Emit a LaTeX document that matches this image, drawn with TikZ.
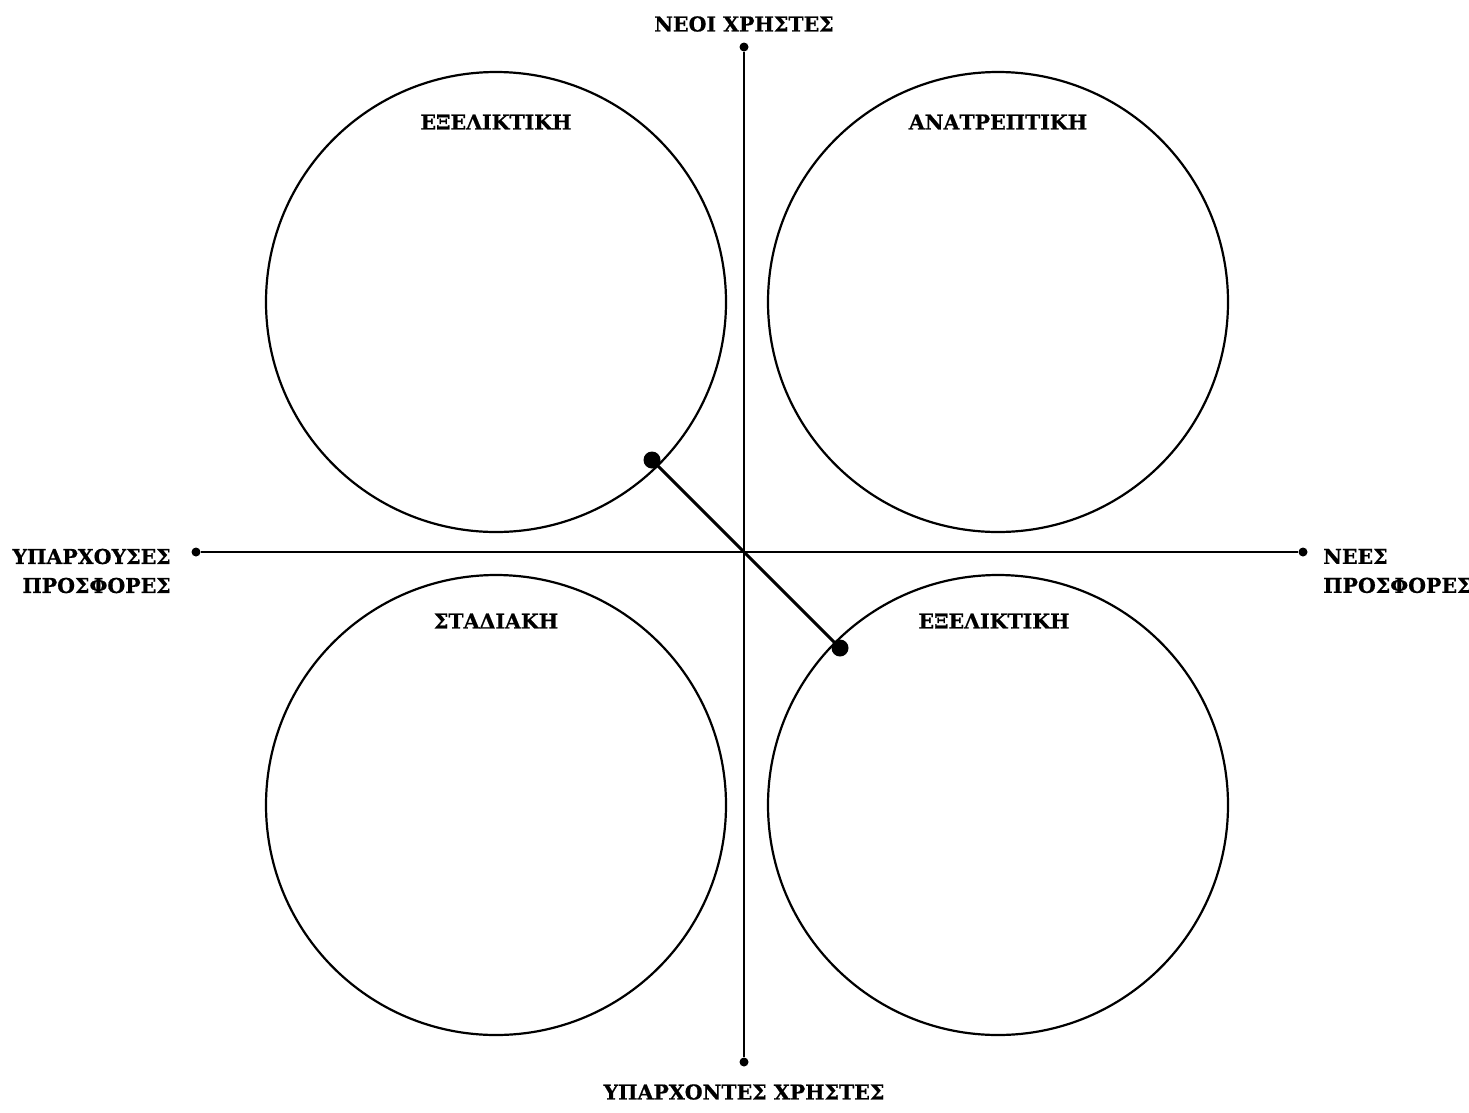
\documentclass[tikz,border=0pt]{standalone}
\usepackage{fontspec}
\setmainfont{DejaVu Serif}[BoldFeatures={FakeBold=0.6}]
\begin{document}
\begin{tikzpicture}[x=1pt,y=-1pt,
  lbl/.style={font=\bfseries\fontsize{20.5}{29}\selectfont, inner sep=0pt},
  ring/.style={draw, line width=2.2pt, circle, minimum size=460pt, inner sep=0pt},
  axis/.style={line width=2.4pt},
  enddot/.style={fill, circle, inner sep=0pt, minimum size=9pt},
  bigdot/.style={fill, circle, inner sep=0pt, minimum size=17pt}]
\useasboundingbox (0,0) rectangle (1469,1112);
\node[ring] (c1) at (496,302) {};
\node[ring] (c2) at (998,302) {};
\node[ring] (c3) at (496,805) {};
\node[ring] (c4) at (998,805) {};
\node[enddot] (top) at (744,47) {};
\node[enddot] (bot) at (744,1062) {};
\node[enddot] (lft) at (196,552) {};
\node[enddot] (rgt) at (1303,552) {};
\coordinate (o) at (744,552);
\draw[axis] (top) -- (bot);
\draw[axis] (lft) -- (rgt);
\node[bigdot] (d1) at (652,460) {};
\node[bigdot] (d2) at (840,648) {};
\draw[line width=3pt] (d1.center) -- (d2.center);
\node[lbl] (tn) at (744,24) {ΝΕΟΙ ΧΡΗΣΤΕΣ};
\node[lbl] (bn) at (744,1092) {ΥΠΑΡΧΟΝΤΕΣ ΧΡΗΣΤΕΣ};
\node[lbl, anchor=east, align=right] (ln) at (171,571) {ΥΠΑΡΧΟΥΣΕΣ\\ΠΡΟΣΦΟΡΕΣ};
\node[lbl, anchor=west, align=left] (rn) at (1323,571) {ΝΕΕΣ\\ΠΡΟΣΦΟΡΕΣ};
\node[lbl] (t1) at (496,122) {ΕΞΕΛΙΚΤΙΚΗ};
\node[lbl] (t2) at (998,122) {ΑΝΑΤΡΕΠΤΙΚΗ};
\node[lbl] (t3) at (496,621) {ΣΤΑΔΙΑΚΗ};
\node[lbl] (t4) at (994,621) {ΕΞΕΛΙΚΤΙΚΗ};
\end{tikzpicture}
\end{document}
